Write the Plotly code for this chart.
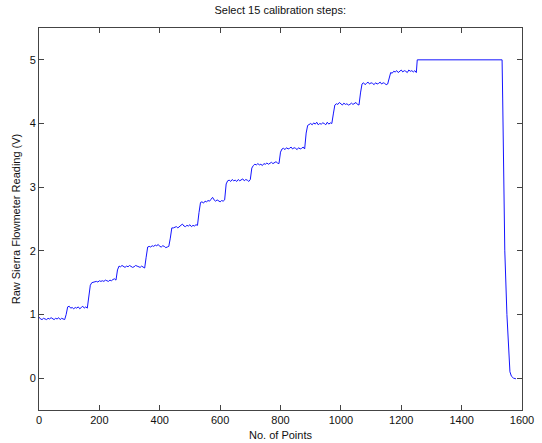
import numpy as np
import plotly.graph_objects as go

# Raw flowmeter readings (V) sampled every 5 points, from point 0 to point 1250
SAMPLE_STEP = 5
readings_ramp = [
    # level ~0.93 V
    0.96, 0.93, 0.92, 0.94, 0.93, 0.92, 0.94, 0.93, 0.95, 0.93, 0.92, 0.94, 0.93, 0.95, 0.92, 0.94, 0.93, 0.92,
    1.00, 1.12,
    # level ~1.1 V
    1.13, 1.10, 1.11, 1.09, 1.11, 1.10, 1.12, 1.09, 1.11, 1.13, 1.10, 1.12, 1.10,
    1.30, 1.46,
    # level ~1.52 V
    1.50, 1.51, 1.52, 1.52, 1.51, 1.53, 1.52, 1.53, 1.52, 1.54, 1.53, 1.52, 1.54, 1.53, 1.55, 1.56, 1.54,
    1.70,
    # level ~1.75 V
    1.76, 1.75, 1.77, 1.75, 1.74, 1.76, 1.75, 1.77, 1.76, 1.74, 1.75, 1.77, 1.76, 1.75, 1.74, 1.76, 1.75, 1.73,
    1.90, 2.06,
    # level ~2.07 V
    2.07, 2.06, 2.08, 2.07, 2.09, 2.08, 2.10, 2.07, 2.06, 2.08, 2.07, 2.05, 2.06, 2.07,
    2.20, 2.36,
    # level ~2.39 V
    2.36, 2.37, 2.38, 2.36, 2.38, 2.40, 2.42, 2.39, 2.38, 2.40, 2.39, 2.41, 2.38, 2.40, 2.39, 2.41, 2.40,
    2.60,
    # level ~2.78 V
    2.76, 2.77, 2.75, 2.78, 2.77, 2.79, 2.78, 2.81, 2.84, 2.80, 2.78, 2.80, 2.79, 2.77, 2.79, 2.78, 2.80,
    3.05,
    # level ~3.1 V
    3.10, 3.11, 3.09, 3.12, 3.10, 3.11, 3.09, 3.12, 3.10, 3.11, 3.13, 3.10, 3.12, 3.11, 3.09, 3.12,
    3.30,
    # level ~3.37 V
    3.34, 3.36, 3.35, 3.37, 3.35, 3.36, 3.34, 3.37, 3.36, 3.38, 3.36, 3.37, 3.39, 3.37, 3.38, 3.40, 3.38, 3.37,
    3.55,
    # level ~3.61 V
    3.60, 3.61, 3.59, 3.62, 3.60, 3.61, 3.63, 3.60, 3.62, 3.61, 3.59, 3.62, 3.60, 3.61, 3.63, 3.60,
    3.85,
    # level ~4.0 V
    3.97, 3.99, 4.00, 3.98, 4.01, 3.99, 4.02, 3.98, 4.00, 3.99, 4.01, 4.00, 3.98, 4.02, 3.99, 4.01, 4.00,
    4.15,
    # level ~4.31 V
    4.29, 4.31, 4.30, 4.33, 4.31, 4.29, 4.32, 4.30, 4.31, 4.29, 4.30, 4.32, 4.30, 4.31, 4.33, 4.30, 4.29,
    4.48,
    # level ~4.63 V
    4.62, 4.64, 4.61, 4.63, 4.65, 4.62, 4.64, 4.63, 4.61, 4.64, 4.62, 4.63, 4.65, 4.62, 4.64, 4.63, 4.61, 4.62,
    4.72,
    # level ~4.82 V
    4.80, 4.79, 4.82, 4.81, 4.83, 4.80, 4.82, 4.84, 4.81, 4.83, 4.82, 4.80, 4.84, 4.82, 4.83, 4.81, 4.83, 4.80,
]

# Saturated plateau and the final fall-off
tail_points = [1253, 1534, 1536, 1543, 1550, 1556, 1560, 1565, 1572, 1580]
tail_readings = [5.00, 5.00, 4.40, 2.00, 1.00, 0.40, 0.10, 0.03, 0.00, -0.01]

x_ticks = [0, 200, 400, 600, 800, 1000, 1200, 1400, 1600]
y_ticks = [0, 1, 2, 3, 4, 5]

points = list(np.arange(len(readings_ramp)) * SAMPLE_STEP) + tail_points
readings = readings_ramp + tail_readings

fig = go.Figure()
fig.add_trace(go.Scatter(
    x=points, y=readings, mode="lines",
    line=dict(color="rgb(20,20,255)", width=1),
    showlegend=False, hoverinfo="skip",
))

axis_style = dict(
    showline=True, linecolor="#444", linewidth=1, mirror="ticks",
    ticks="inside", ticklen=5, tickcolor="#444", tickwidth=1,
    showgrid=False, zeroline=False, automargin=False,
    tickfont=dict(family="Liberation Sans, Arial, sans-serif", size=11, color="#111"),
)

fig.update_layout(
    width=542, height=443,
    margin=dict(l=39, r=20, t=28, b=33),
    paper_bgcolor="white", plot_bgcolor="white",
    font=dict(family="Liberation Sans, Arial, sans-serif", size=11, color="#111"),
    title=dict(text="Select 15 calibration steps:", x=0.517, xanchor="center",
               y=0.985, yanchor="top", font=dict(size=11)),
    xaxis=dict(range=[0, 1600], tickvals=x_ticks,
               title=dict(text="No. of Points", standoff=6, font=dict(size=11)),
               **axis_style),
    yaxis=dict(range=[-0.5, 5.5], tickvals=y_ticks,
               title=dict(text="Raw Sierra Flowmeter Reading (V)", standoff=6, font=dict(size=11)),
               **axis_style),
)

fig.write_html("out.html")
